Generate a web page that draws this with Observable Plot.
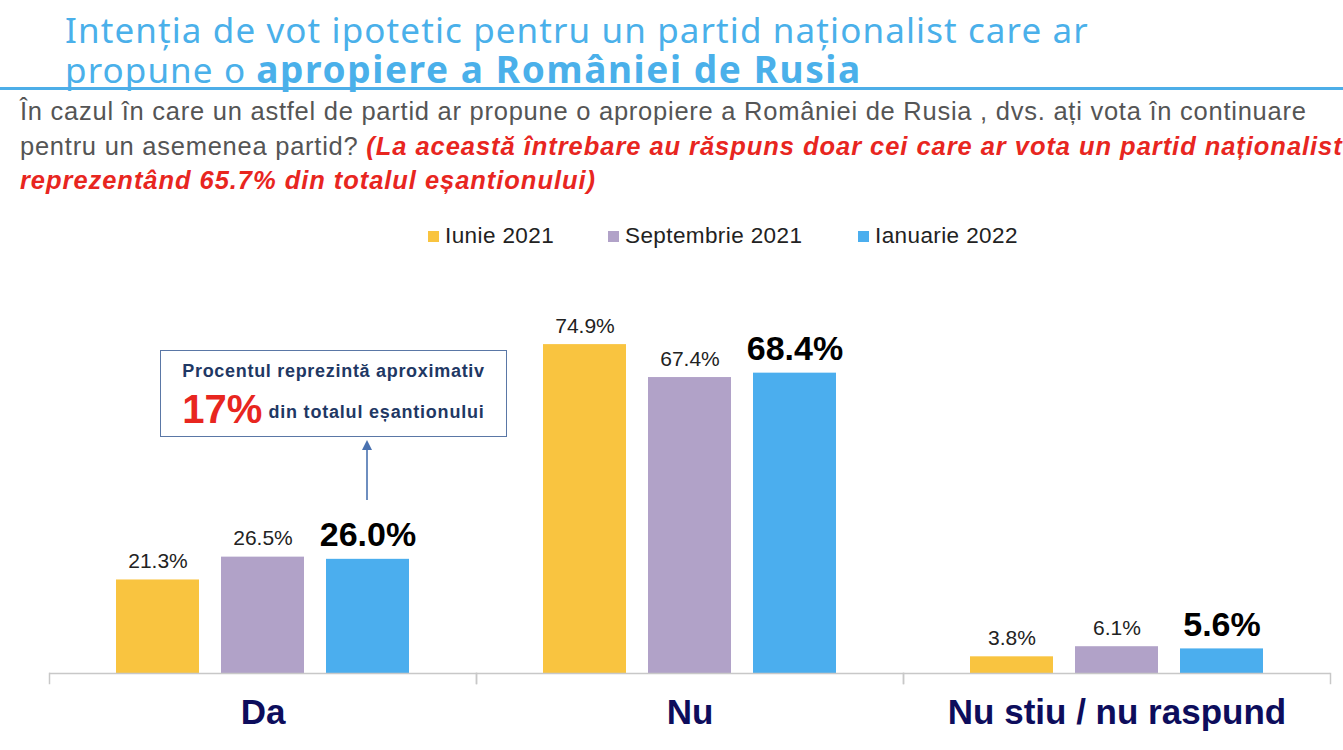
<!DOCTYPE html>
<html><head><meta charset="utf-8">
<script src="https://cdn.jsdelivr.net/npm/d3@7"></script>
<script src="https://cdn.jsdelivr.net/npm/@observablehq/plot@0.6"></script>
<style>
body{margin:0;background:#fff;}
#page{position:relative;width:1343px;height:750px;overflow:hidden;font-family:"Liberation Sans",Arial,sans-serif;background:#fff;}
.tline{position:absolute;left:65px;font-family:"Noto Sans",sans-serif;font-size:35px;line-height:38px;color:#4AB0EA;white-space:nowrap;letter-spacing:1.1px;}
.tline b{font-weight:bold;font-size:37px;letter-spacing:1.6px;}
#rule{position:absolute;left:0;top:87px;width:1343px;height:3px;background:#4DAEE8;}
#sub{position:absolute;left:20px;top:94px;font-size:25.5px;line-height:34.5px;color:#555;white-space:nowrap;letter-spacing:0.75px;}
#sub .red{color:#E8261F;font-weight:bold;font-style:italic;letter-spacing:0.95px;}
#legend{position:absolute;top:223px;left:0;width:1343px;font-size:22.5px;color:#222;letter-spacing:0.4px;}
#legend span.item{position:absolute;white-space:nowrap;}
#legend i{display:inline-block;width:11px;height:11px;margin-right:6px;vertical-align:1px;}
#chart{position:absolute;left:0;top:270px;}
#note{position:absolute;left:160px;top:350px;width:345px;height:85px;border:1.5px solid #5A77A6;box-sizing:content-box;text-align:center;color:#1F3864;font-weight:bold;}
#note .l1{position:absolute;left:0;width:100%;top:10px;font-size:18px;letter-spacing:0.7px;}
#note .l2{position:absolute;left:0;width:100%;top:36px;font-size:18px;white-space:nowrap;letter-spacing:0.8px;}
#note .big{color:#E8261F;font-size:40px;vertical-align:-5px;margin-right:6px;letter-spacing:0;}
#arrow{position:absolute;left:355px;top:438px;}
</style></head><body>
<div id="page">
  <div class="tline" style="top:11px">Intenția de vot ipotetic pentru un partid naționalist care ar</div>
  <div class="tline" style="top:50px">propune o <b>apropiere a României de Rusia</b></div>
  <div id="rule"></div>
  <div id="sub">În cazul în care un astfel de partid ar propune o apropiere a României de Rusia , dvs. ați vota în continuare<br>pentru un asemenea partid? <span class="red">(La această întrebare au răspuns doar cei care ar vota un partid naționalist</span><br><span class="red">reprezentând 65.7% din totalul eșantionului)</span></div>
  <div id="legend"></div>
  <div id="chart"></div>
  <div id="note"><div class="l1">Procentul reprezintă aproximativ</div><div class="l2"><span class="big">17%</span>din totalul eșantionului</div></div>
  <svg id="arrow" width="24" height="66"><line x1="12" y1="62" x2="12" y2="6" stroke="#4A72B0" stroke-width="1.6"/><path d="M7,12 L12,2 L17,12 Z" fill="#4A72B0"/></svg>
</div>
<script>
const categories = ["Da", "Nu", "Nu stiu / nu raspund"];
const series = ["Iunie 2021", "Septembrie 2021", "Ianuarie 2022"];
const iunie2021 = [21.3, 74.9, 3.8];
const septembrie2021 = [26.5, 67.4, 6.1];
const ianuarie2022 = [26.0, 68.4, 5.6];
const seriesColors = ["#F9C440", "#B1A2C8", "#4BAEEE"];

const valuesBySeries = [iunie2021, septembrie2021, ianuarie2022];
const data = categories.flatMap((c, i) => series.map((s, j) => ({cat: c, s, v: valuesBySeries[j][i]})));
const fmt = d => d.v.toFixed(1) + "%";

// legend
const legendX = [428, 608, 858];
const legend = document.getElementById("legend");
series.forEach((s, j) => {
  const el = document.createElement("span");
  el.className = "item";
  el.style.left = legendX[j] + "px";
  el.innerHTML = `<i style="background:${seriesColors[j]}"></i>${s}`;
  legend.appendChild(el);
});

const gray = "#C8C8C8";
const chart = Plot.plot({
  width: 1343, height: 480,
  marginTop: 10, marginBottom: 77, marginLeft: 48, marginRight: 13,
  style: {fontFamily: "'Liberation Sans', Arial, sans-serif", background: "transparent", overflow: "visible"},
  fx: {domain: categories, padding: 0, label: null},
  x: {domain: series, paddingInner: 0.21, paddingOuter: 0.638, axis: null},
  y: {domain: [0, 89.5], axis: null},
  color: {domain: series, range: seriesColors},
  marks: [
    Plot.barY(data, {fx: "cat", x: "s", y: "v", fill: "s"}),
    Plot.ruleY([0], {stroke: gray, strokeWidth: 1.5}),
    Plot.frame({anchor: "left", stroke: gray, strokeWidth: 1.5, insetTop: 393, insetBottom: -10}),
    Plot.frame({anchor: "right", stroke: gray, strokeWidth: 1.5, insetTop: 393, insetBottom: -10}),
    Plot.text(data.filter(d => d.s !== series[2]), {fx: "cat", x: "s", y: "v", text: fmt, dy: -12, lineAnchor: "bottom", fontSize: 21, fill: "#222"}),
    Plot.text(data.filter(d => d.s === series[2]), {fx: "cat", x: "s", y: "v", text: fmt, dy: -13, lineAnchor: "bottom", fontSize: 34, fontWeight: "bold", fill: "#000"}),
    Plot.axisFx({anchor: "bottom", tickSize: 0, tickPadding: 26, fontSize: 35, fontWeight: "bold", fill: "#0D0D5C", label: null})
  ]
});
document.getElementById("chart").appendChild(chart);
</script>
</body></html>
